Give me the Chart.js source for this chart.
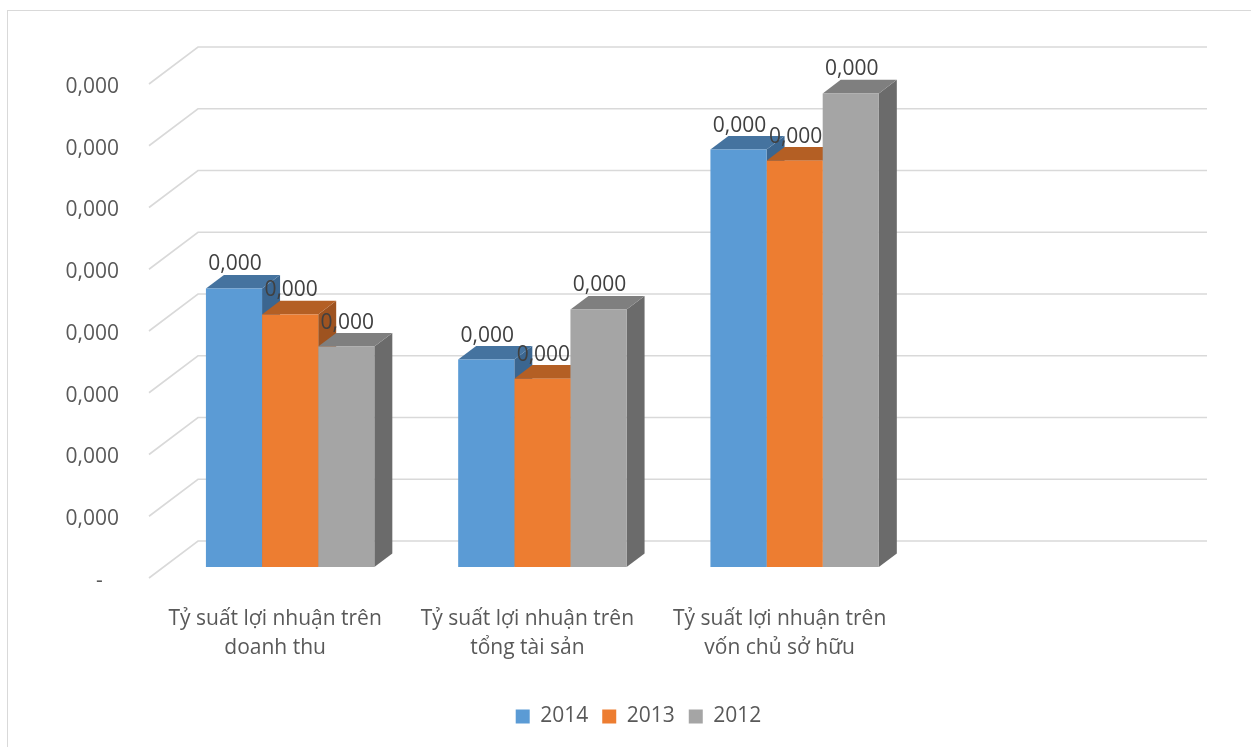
<!DOCTYPE html>
<html lang="vi">
<head>
<meta charset="utf-8">
<title>Tỷ suất lợi nhuận</title>
<script src="https://cdn.jsdelivr.net/npm/chart.js@4.4.1/dist/chart.umd.min.js"></script>
<style>
  html, body { margin: 0; padding: 0; background: #fff; overflow: hidden; }
  #frame { position: absolute; left: 7px; top: 10px; width: 1270px; height: 770px; border: 1.5px solid #d9d9d9; box-sizing: border-box; }
  #chart { position: absolute; left: 0; top: 0; }
</style>
</head>
<body>
<div id="frame"></div>
<canvas id="chart" width="1251" height="747"></canvas>
<script>
// data
const categories = [
    ['Tỷ suất lợi nhuận trên', 'doanh thu'],
    ['Tỷ suất lợi nhuận trên', 'tổng tài sản'],
    ['Tỷ suất lợi nhuận trên', 'vốn chủ sở hữu'],
    ''
];
const years = ['2014', '2013', '2012'];
const values2014 = [0.0002255, 0.000168, 0.000338, null];
const values2013 = [0.0002045, 0.0001525, 0.000329, null];
const values2012 = [0.0001785, 0.0002085, 0.0003835, null];
const yMax = 0.0004;
const yStep = 0.00005;

const frontColors = ['#5B9BD5', '#ED7D31', '#A5A5A5'];
const topColors = ['#45739F', '#B45F24', '#7F7F7F'];
const sideColors = ['#3B6690', '#9E5320', '#6B6B6B'];

// oblique offsets for the fake 3D look
const DEPTH_X = 18, DEPTH_Y = 13.6;   // bar depth
const BACK_X = 34, BACK_Y = 26;       // back wall from bar plane
const FRONT_X = 15, FRONT_Y = 11;     // front edge from bar plane

const fmt = v => v.toFixed(3).replace('.', ',');

Chart.defaults.font.family = '"Open Sans", sans-serif';
Chart.defaults.font.size = 21;
Chart.defaults.color = '#595959';

const bars3d = {
    id: 'bars3d',
    beforeDatasetsDraw(chart) {
        const ctx = chart.ctx;
        const area = chart.chartArea;
        const yScale = chart.scales.y;

        // walls: back gridlines + diagonal floor edges on the left
        ctx.save();
        ctx.strokeStyle = '#D9D9D9';
        ctx.lineWidth = 1.6;
        for (let v = 0; v <= yMax + 1e-9; v += yStep) {
            const py = yScale.getPixelForValue(v);
            ctx.beginPath();
            ctx.moveTo(area.left - FRONT_X, py + FRONT_Y);
            ctx.lineTo(area.left + BACK_X, py - BACK_Y);
            ctx.lineTo(area.right + BACK_X, py - BACK_Y);
            ctx.stroke();
        }

        // top and side faces, front faces come from chart.js afterwards
        const n = categories.length;
        for (let i = 0; i < n; i++) {
            chart.data.datasets.forEach((ds, d) => {
                if (ds.data[i] == null) return;
                const el = chart.getDatasetMeta(d).data[i];
                const { x, y, base, width } = el.getProps(['x', 'y', 'base', 'width'], true);
                const left = x - width / 2, right = x + width / 2;

                ctx.fillStyle = sideColors[d];
                ctx.beginPath();
                ctx.moveTo(right, y);
                ctx.lineTo(right + DEPTH_X, y - DEPTH_Y);
                ctx.lineTo(right + DEPTH_X, base - DEPTH_Y);
                ctx.lineTo(right, base);
                ctx.closePath();
                ctx.fill();

                ctx.fillStyle = topColors[d];
                ctx.beginPath();
                ctx.moveTo(left, y);
                ctx.lineTo(right, y);
                ctx.lineTo(right + DEPTH_X, y - DEPTH_Y);
                ctx.lineTo(left + DEPTH_X, y - DEPTH_Y);
                ctx.closePath();
                ctx.fill();
            });
        }
        ctx.restore();
    },
    afterDatasetsDraw(chart) {
        const ctx = chart.ctx;
        ctx.save();
        ctx.fillStyle = '#404040';
        ctx.font = '21px "Open Sans", sans-serif';
        ctx.textAlign = 'center';
        ctx.textBaseline = 'middle';
        chart.data.datasets.forEach((ds, d) => {
            chart.getDatasetMeta(d).data.forEach((el, i) => {
                if (ds.data[i] == null) return;
                ctx.fillText(fmt(ds.data[i]), el.x + 1, el.y - 24);
            });
        });
        ctx.restore();
    }
};

new Chart(document.getElementById('chart'), {
    type: 'bar',
    data: {
        labels: categories,
        datasets: [
            { label: years[0], data: values2014, backgroundColor: frontColors[0] },
            { label: years[1], data: values2013, backgroundColor: frontColors[1] },
            { label: years[2], data: values2012, backgroundColor: frontColors[2] }
        ]
    },
    options: {
        responsive: false,
        animation: false,
        events: [],
        borderWidth: 0,
        categoryPercentage: 0.6676,
        barPercentage: 1.0,
        layout: { padding: { top: 73, right: 0, left: 26, bottom: 10 } },
        scales: {
            x: {
                grid: { display: false },
                border: { display: false },
                ticks: {
                    padding: 30,
                    labelOffset: -15,
                    maxRotation: 0,
                    autoSkip: false,
                    font: { size: 21, lineHeight: 1.36 }
                },
                afterFit: s => { s.height = 125; }
            },
            y: {
                min: 0,
                max: yMax,
                grid: { display: false },
                border: { display: false },
                ticks: {
                    stepSize: yStep,
                    padding: 37,
                    labelOffset: 14,
                    callback: v => (Math.abs(v) < 1e-12 ? '-   ' : fmt(v))
                },
                afterFit: s => { s.width = 138; }
            },
            // empty right axis, only keeps room on the right side
            yRight: {
                position: 'right',
                grid: { display: false },
                border: { display: false },
                ticks: { display: false },
                afterFit: s => { s.width = 78; }
            }
        },
        plugins: {
            legend: {
                position: 'bottom',
                labels: { boxWidth: 14, boxHeight: 14, padding: 14, color: '#595959', font: { size: 21 } }
            },
            tooltip: { enabled: false }
        }
    },
    plugins: [bars3d]
});
</script>
</body>
</html>
